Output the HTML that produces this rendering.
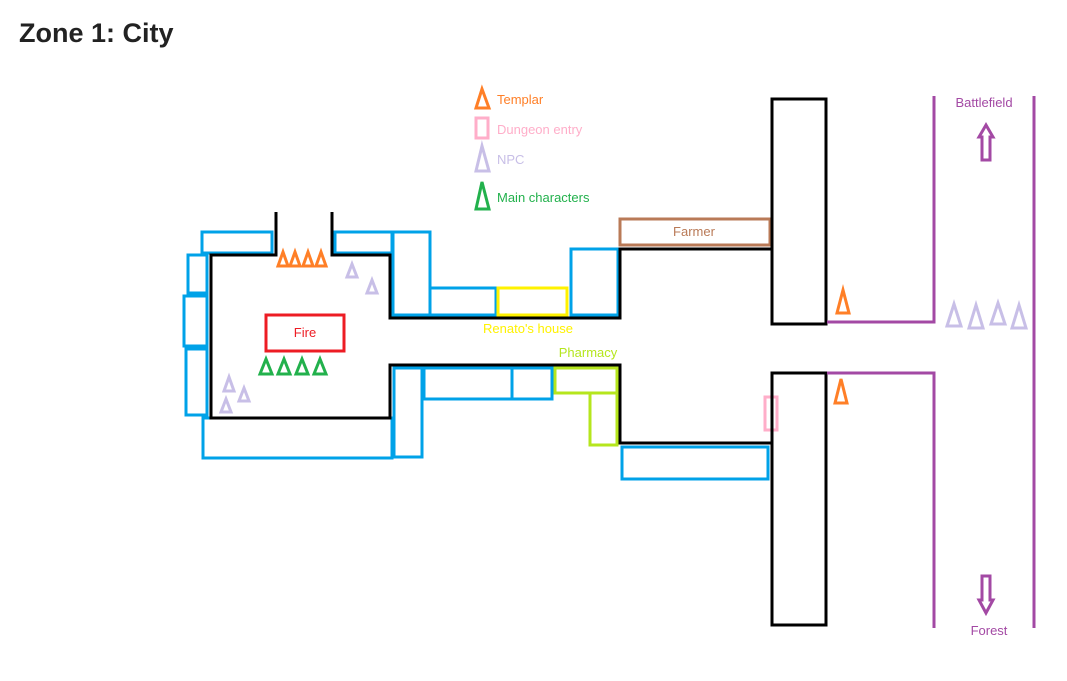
<!DOCTYPE html>
<html><head><meta charset="utf-8"><style>
html,body{margin:0;padding:0;background:#fff;width:1067px;height:681px;overflow:hidden}
svg{display:block}
</style></head><body>
<svg width="1067" height="681" viewBox="0 0 1067 681" xmlns="http://www.w3.org/2000/svg" font-family="Liberation Sans, sans-serif">
<text x="19" y="42" font-size="27" font-weight="bold" fill="#222" font-family="Liberation Sans, sans-serif">Zone 1: City</text>

<!-- legend -->
<g fill="none" stroke-width="3">
<polygon points="482,89 476,108 489,108" stroke="#ff7f27"/>
<rect x="476" y="118" width="12" height="20" stroke="#ffaec9"/>
<polygon points="482,146 476,171 489,171" stroke="#c8bfe7"/>
<polygon points="482,182 476,209 489,209" stroke="#22b14c"/>
</g>
<text x="497" y="104" font-size="13" fill="#ff7f27">Templar</text>
<text x="497" y="134" font-size="13" fill="#ffaec9">Dungeon entry</text>
<text x="497" y="164" font-size="13" fill="#c8bfe7">NPC</text>
<text x="497" y="202" font-size="13" fill="#22b14c">Main characters</text>

<!-- blue buildings -->
<g fill="#fff" stroke="#00a2e8" stroke-width="3">
<rect x="202" y="232" width="70" height="21"/>
<rect x="188" y="255" width="19" height="38"/>
<rect x="184" y="296" width="23" height="50"/>
<rect x="186" y="349" width="21" height="66"/>
<rect x="203" y="418" width="189" height="40"/>
<rect x="335" y="232" width="57" height="21"/>
<rect x="393" y="232" width="37" height="83"/>
<rect x="430" y="288" width="66" height="27"/>
<rect x="571" y="249" width="47" height="66"/>
<rect x="394" y="368" width="28" height="89"/>
<rect x="424" y="368" width="88" height="31"/>
<rect x="512" y="368" width="40" height="31"/>
<rect x="622" y="447" width="146" height="32"/>
</g>
<g fill="none" stroke-width="3">
<rect x="498" y="288" width="69" height="27" stroke="#fff200"/>
<rect x="555" y="368" width="62" height="25" stroke="#b5e61d"/>
<rect x="590" y="393" width="27" height="52" stroke="#b5e61d"/>
<rect x="620" y="219" width="150" height="26" stroke="#b97a57"/>
<rect x="266" y="315" width="78" height="36" stroke="#ed1c24"/>
<rect x="765" y="397" width="12" height="33" stroke="#ffaec9"/>
</g>

<!-- black walls -->
<g fill="none" stroke="#000" stroke-width="3">
<polyline points="276,212 276,255 211,255 211,418 390,418 390,365 620,365 620,443 771,443"/>
<polyline points="332,212 332,255 390,255 390,318 620,318 620,249 771,249"/>
<rect x="772" y="99" width="54" height="225"/>
<rect x="772" y="373" width="54" height="252"/>
</g>

<!-- purple roads -->
<g fill="none" stroke="#a349a4" stroke-width="3">
<polyline points="827,322 934,322 934,96"/>
<polyline points="827,373 934,373 934,628"/>
<line x1="1034" y1="96" x2="1034" y2="628"/>
<polygon points="986,125 979,137 982,137 982,160 990,160 990,137 993,137"/>
<polygon points="986,613 979,600 982,600 982,576 990,576 990,600 993,600"/>
</g>
<text x="984" y="107" font-size="13" fill="#a349a4" text-anchor="middle">Battlefield</text>
<text x="989" y="635" font-size="13" fill="#a349a4" text-anchor="middle">Forest</text>

<text x="694" y="236" font-size="13" fill="#b97a57" text-anchor="middle">Farmer</text>
<text x="305" y="337" font-size="13" fill="#ed1c24" text-anchor="middle">Fire</text>
<text x="528" y="333" font-size="13" fill="#fff200" text-anchor="middle">Renato's house</text>
<text x="588" y="357" font-size="13" fill="#b5e61d" text-anchor="middle">Pharmacy</text>

<!-- triangles -->
<g fill="none" stroke-width="3" stroke-linejoin="miter">
<g stroke="#ff7f27">
<polygon points="283,252 278,266 288,266"/>
<polygon points="295,252 290,266 300,266"/>
<polygon points="308,252 303,266 313,266"/>
<polygon points="321,252 316,266 326,266"/>
<polygon points="843,290 837,313 849,313"/>
<polygon points="841,379 835,403 847,403"/>
</g>
<g stroke="#22b14c">
<polygon points="266,359 260,374 272,374"/>
<polygon points="284,359 278,374 290,374"/>
<polygon points="302,359 296,374 308,374"/>
<polygon points="320,359 314,374 326,374"/>
</g>
<g stroke="#c8bfe7">
<polygon points="352,264 347,277 357,277"/>
<polygon points="372,280 367,293 377,293"/>
<polygon points="229,377 224,391 234,391"/>
<polygon points="244,388 239,401 249,401"/>
<polygon points="226,399 221,412 231,412"/>
<polygon points="954,304 947,326 961,326"/>
<polygon points="976,305 969,328 983,328"/>
<polygon points="998,303 991,324 1005,324"/>
<polygon points="1019,305 1012,328 1026,328"/>
</g>
</g>
</svg>
</body></html>
